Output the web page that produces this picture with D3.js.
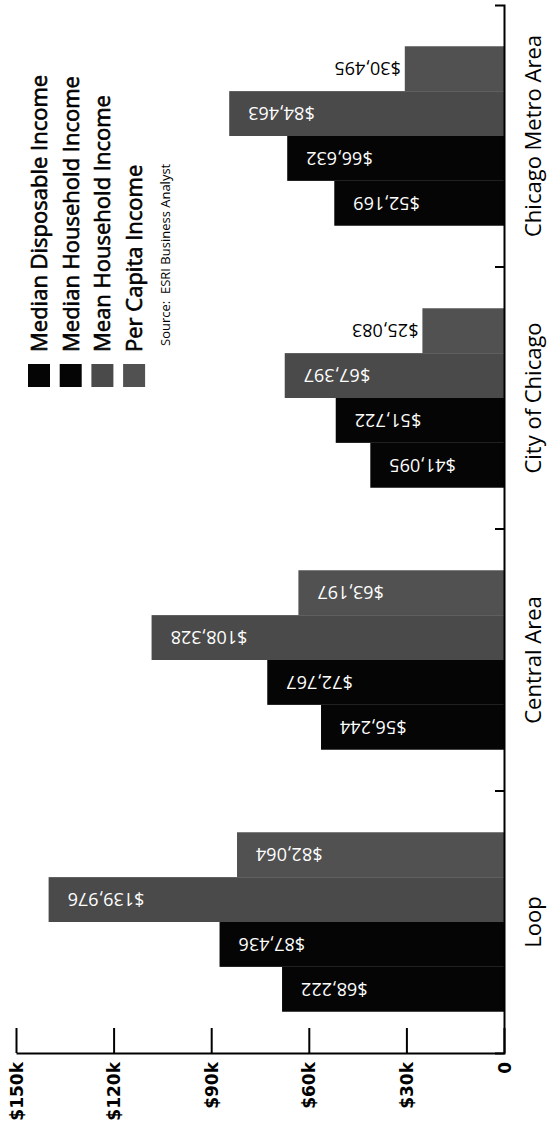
<!DOCTYPE html>
<html><head><meta charset="utf-8">
<script src="https://cdn.jsdelivr.net/npm/d3@7"></script>
<style>body{margin:0;background:#fff}svg{display:block;background:#fff}</style>
</head><body><svg id="chart" width="547" height="1124"></svg>
<script>
// ---- data ----
const categories = ["Loop", "Central Area", "City of Chicago", "Chicago Metro Area"];
const seriesNames = ["Median Disposable Income", "Median Household Income", "Mean Household Income", "Per Capita Income"];
const medianDisposable = [68222, 56244, 41095, 52169];
const medianHousehold = [87436, 72767, 51722, 66632];
const meanHousehold = [139976, 108328, 67397, 84463];
const perCapita = [82064, 63197, 25083, 30495];
const tickValues = [0, 30000, 60000, 90000, 120000, 150000];
const tickLabels = ["0", "$30k", "$60k", "$90k", "$120k", "$150k"];
const sourceText = "Source:  ESRI Business Analyst";

// ---- styles ----
const seriesColors = ["#050505", "#050505", "#4a4a4a", "#515151"];
const fontText = "'Open Sans', 'Noto Sans', sans-serif";
const fontAxis = "'DejaVu Sans', Verdana, sans-serif";

const seriesValues = [medianDisposable, medianHousehold, meanHousehold, perCapita];
const table = categories.map((c, i) => ({
  cat: c,
  values: seriesNames.map((s, j) => ({ cat: c, series: s, idx: j, value: seriesValues[j][i] }))
}));

const svg = d3.select("#chart");

const x = d3.scaleLinear().domain([0, 150000]).range([504, 16]);
const y = d3.scaleBand().domain(categories.slice().reverse()).range([5, 1053])
  .paddingInner(0.315).paddingOuter(0.1575);
const sub = d3.scaleBand().domain(seriesNames.slice().reverse()).range([0, y.bandwidth()]);
const color = d3.scaleOrdinal().domain(seriesNames).range(seriesColors);

// bars
const groups = svg.append("g").selectAll("g").data(table).join("g")
  .attr("transform", d => `translate(0,${y(d.cat)})`);
groups.selectAll("rect").data(d => d.values).join("rect")
  .attr("x", d => x(d.value))
  .attr("width", d => x(0) - x(d.value))
  .attr("y", d => sub(d.series))
  .attr("height", sub.bandwidth())
  .attr("fill", d => color(d.series));

// value labels (upside down)
groups.selectAll("text").data(d => d.values).join("text")
  .each(function(d) {
    const left = x(d.value);
    const len = x(0) - left;
    const cy = sub(d.series) + sub.bandwidth() / 2;
    const inside = len > 110;
    const px = inside ? left + 19 : left - 4;
    d3.select(this)
      .attr("x", px).attr("y", cy).attr("dy", "0.36em")
      .attr("transform", `rotate(180,${px},${cy})`)
      .attr("text-anchor", inside ? "end" : "start")
      .attr("fill", inside ? "#fff" : "#000");
  })
  .attr("font-family", fontText)
  .attr("font-size", 18)
  .text(d => "$" + d3.format(",")(d.value));

// value axis (bottom)
const xAxis = svg.append("g").attr("transform", "translate(0,1053)")
  .call(d3.axisBottom(x).tickValues(tickValues).tickFormat((d, i) => tickLabels[i])
    .tickSize(-25).tickSizeOuter(0));
xAxis.selectAll("path,line").attr("stroke", "#000").attr("stroke-width", 2);
xAxis.selectAll("text")
  .attr("transform", "translate(6,9) rotate(-90)")
  .attr("x", 0).attr("y", 0).attr("dy", 0)
  .attr("text-anchor", "end")
  .attr("font-family", fontAxis).attr("font-weight", "bold").attr("font-size", 17)
  .attr("fill", "#000");

// category axis (right)
const yAxis = svg.append("g").attr("transform", "translate(504,0)")
  .call(d3.axisRight(y).tickSize(0).tickSizeOuter(-9));
yAxis.select(".domain").attr("stroke", "#000").attr("stroke-width", 2);
yAxis.selectAll("text")
  .attr("transform", "translate(37,0) rotate(-90)")
  .attr("x", 0).attr("y", 0).attr("dy", 0)
  .attr("text-anchor", "middle")
  .attr("font-family", fontText).attr("font-size", 22).attr("fill", "#000");
// separators between categories
const seps = categories.slice().reverse().slice(1).map(c => y(c) - y.step() * y.paddingInner() / 2);
yAxis.selectAll("line.sep").data(seps).join("line").attr("class", "sep")
  .attr("x1", -9).attr("x2", 0).attr("y1", d => d).attr("y2", d => d)
  .attr("stroke", "#000").attr("stroke-width", 2);

// legend
const legend = svg.append("g");
const lg = legend.selectAll("g").data(seriesNames).join("g")
  .attr("transform", (d, i) => `translate(${39 + i * 31.7},0)`);
lg.append("rect").attr("x", -11).attr("y", 364).attr("width", 22).attr("height", 23)
  .attr("fill", d => color(d));
lg.append("text")
  .attr("transform", "translate(8,352) rotate(-90)")
  .attr("font-family", fontText).attr("font-size", 22).attr("fill", "#000")
  .attr("stroke", "#000").attr("stroke-width", 0.6)
  .text(d => d);
legend.append("text")
  .attr("transform", `translate(${39 + 4 * 31.7 + 4},346) rotate(-90)`)
  .attr("xml:space", "preserve").style("white-space", "pre")
  .attr("font-family", fontText).attr("font-size", 13).attr("fill", "#000")
  .text(sourceText);
</script>
</body></html>
